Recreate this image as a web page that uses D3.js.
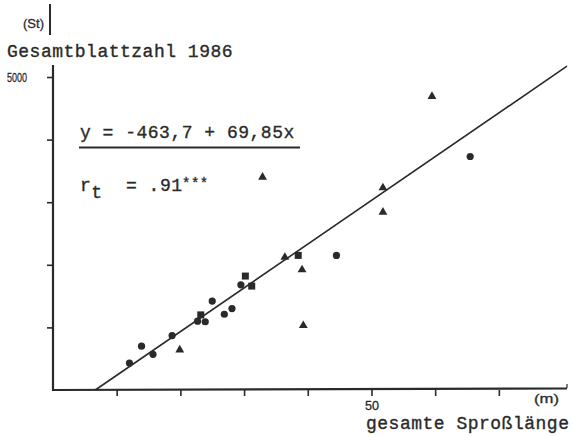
<!DOCTYPE html>
<html>
<head>
<meta charset="utf-8">
<script src="https://cdn.jsdelivr.net/npm/d3@7"></script>
<style>
  body { margin: 0; background: #fff; }
  svg { display: block; }
  .mono { font-family: "Liberation Mono", "DejaVu Sans Mono", monospace; fill: #2a2a2a; stroke: #2a2a2a; stroke-width: 0.35; }
  .hand { font-family: "Liberation Sans", Arial, sans-serif; fill: #2a2a2a; stroke: #2a2a2a; stroke-width: 0.3; }
</style>
</head>
<body>
<div id="chart"></div>
<script>
// data: x = Sproßlänge (m), y = Blattzahl (St)
var circleX = [12.0, 13.9, 15.7, 18.7, 22.7, 23.9, 25.0, 26.9, 28.1, 29.5, 44.5, 65.5];
var circleY = [430, 700, 570, 870, 1100, 1090, 1420, 1210, 1300, 1680, 2150, 3730];
var squareX = [23.2, 30.2, 31.2, 38.5];
var squareY = [1200, 1820, 1660, 2150];
var triX = [19.9, 32.9, 36.4, 39.1, 39.3, 51.8, 51.8, 59.5];
var triY = [640, 3400, 2120, 1920, 1030, 3230, 2840, 4690];

var xTicks = [10, 20, 30, 40, 50, 60, 70];
var yTicks = [1000, 2000, 3000, 4000, 5000];
var regIntercept = -463.7, regSlope = 69.85;

var width = 573, height = 437;
var ink = "#2a2a2a";

var svg = d3.select("#chart").append("svg")
    .attr("width", width)
    .attr("height", height);

var x = d3.scaleLinear().domain([0, 80.7]).range([53, 567]);
var y = d3.scaleLinear().domain([0, 5000]).range([390, 77]);

// y axis
var yAxis = svg.append("g")
    .attr("transform", "translate(" + x(0) + ",0)")
    .call(d3.axisLeft(y).tickValues(yTicks).tickSize(6).tickSizeOuter(0)
      .tickFormat(function(d) { return d === 5000 ? "5000" : ""; }));
yAxis.select(".domain").remove();
yAxis.selectAll("line").attr("stroke", ink).attr("stroke-width", 1.6);
yAxis.selectAll("text").filter(function(d) { return d === 5000; })
    .attr("class", "hand").attr("font-size", 13)
    .attr("text-anchor", "start").attr("x", -46)
    .attr("textLength", 20).attr("lengthAdjust", "spacingAndGlyphs")
    .style("fill", ink);

// x axis
var xAxis = svg.append("g")
    .attr("transform", "translate(0," + y(0) + ")")
    .call(d3.axisBottom(x).tickValues(xTicks).tickSize(6).tickSizeOuter(0)
      .tickFormat(function(d) { return d === 50 ? "50" : ""; }));
xAxis.select(".domain").remove();
xAxis.selectAll("line").attr("stroke", ink).attr("stroke-width", 1.6);
xAxis.selectAll("text").filter(function(d) { return d === 50; })
    .attr("class", "hand").attr("font-size", 12)
    .attr("dy", null).attr("y", 20)
    .attr("textLength", 14).attr("lengthAdjust", "spacingAndGlyphs")
    .style("fill", ink);

// axis lines (y axis runs up past the label)
svg.append("line").attr("x1", x(0)).attr("x2", x(0)).attr("y1", 65).attr("y2", y(0) + 1)
    .attr("stroke", ink).attr("stroke-width", 2.2);
svg.append("line").attr("x1", x(0) - 3).attr("x2", x(0) - 3).attr("y1", 4).attr("y2", 35)
    .attr("stroke", ink).attr("stroke-width", 2);
svg.append("line").attr("x1", x(0)).attr("x2", x.range()[1]).attr("y1", y(0)).attr("y2", y(0) - 1.5)
    .attr("stroke", ink).attr("stroke-width", 2.2);
svg.append("line").attr("x1", x.range()[1]).attr("x2", x.range()[1]).attr("y1", y(0) - 2).attr("y2", y(0) - 6)
    .attr("stroke", ink).attr("stroke-width", 1.2);

// regression line
var x0 = -regIntercept / regSlope;
var x1 = x.domain()[1];
svg.append("line")
    .attr("x1", x(x0)).attr("y1", y(regIntercept + regSlope * x0))
    .attr("x2", x(x1)).attr("y2", y(regIntercept + regSlope * x1))
    .attr("stroke", ink).attr("stroke-width", 1.6);

// markers
svg.selectAll(".circ").data(d3.range(circleX.length)).enter().append("circle")
    .attr("class", "circ")
    .attr("cx", function(i) { return x(circleX[i]); })
    .attr("cy", function(i) { return y(circleY[i]); })
    .attr("r", 3.6).attr("fill", ink);

svg.selectAll(".sq").data(d3.range(squareX.length)).enter().append("rect")
    .attr("class", "sq")
    .attr("x", function(i) { return x(squareX[i]) - 3.5; })
    .attr("y", function(i) { return y(squareY[i]) - 3.5; })
    .attr("width", 7).attr("height", 7).attr("fill", ink);

var tri = d3.symbol().type(d3.symbolTriangle).size(34);
svg.selectAll(".tri").data(d3.range(triX.length)).enter().append("path")
    .attr("class", "tri")
    .attr("d", tri)
    .attr("transform", function(i) { return "translate(" + x(triX[i]) + "," + y(triY[i]) + ")"; })
    .attr("fill", ink);

// labels
svg.append("text").attr("class", "hand").attr("x", 23).attr("y", 28)
    .attr("font-size", 13).attr("textLength", 21).attr("lengthAdjust", "spacingAndGlyphs")
    .text("(St)");
svg.append("text").attr("class", "mono").attr("x", 7).attr("y", 57)
    .attr("font-size", 18).attr("letter-spacing", 0.5).text("Gesamtblattzahl 1986");
svg.append("text").attr("class", "mono").attr("x", 366).attr("y", 429)
    .attr("font-size", 18).attr("letter-spacing", 0.5).text("gesamte Sproßlänge");
svg.append("text").attr("class", "hand").attr("x", 534).attr("y", 403)
    .attr("font-size", 13).attr("textLength", 25).attr("lengthAdjust", "spacingAndGlyphs")
    .text("(m)");

svg.append("text").attr("class", "mono").attr("x", 80).attr("y", 138)
    .attr("font-size", 18).attr("letter-spacing", 0.5).text("y = -463,7 + 69,85x");
svg.append("line").attr("x1", 79).attr("x2", 300).attr("y1", 147.5).attr("y2", 147.5)
    .attr("stroke", ink).attr("stroke-width", 2);

var rt = svg.append("text").attr("class", "mono").attr("x", 80).attr("y", 191)
    .attr("font-size", 18).attr("letter-spacing", 0.5);
rt.append("tspan").text("r");
rt.append("tspan").attr("dy", 7).text("t");
svg.append("text").attr("class", "mono").attr("x", 126).attr("y", 191)
    .attr("font-size", 18).attr("letter-spacing", 0.5).text("= .91");
svg.append("text").attr("class", "mono").attr("x", 182).attr("y", 188)
    .attr("font-size", 14).attr("letter-spacing", 0.5).text("***");
</script>
</body>
</html>
